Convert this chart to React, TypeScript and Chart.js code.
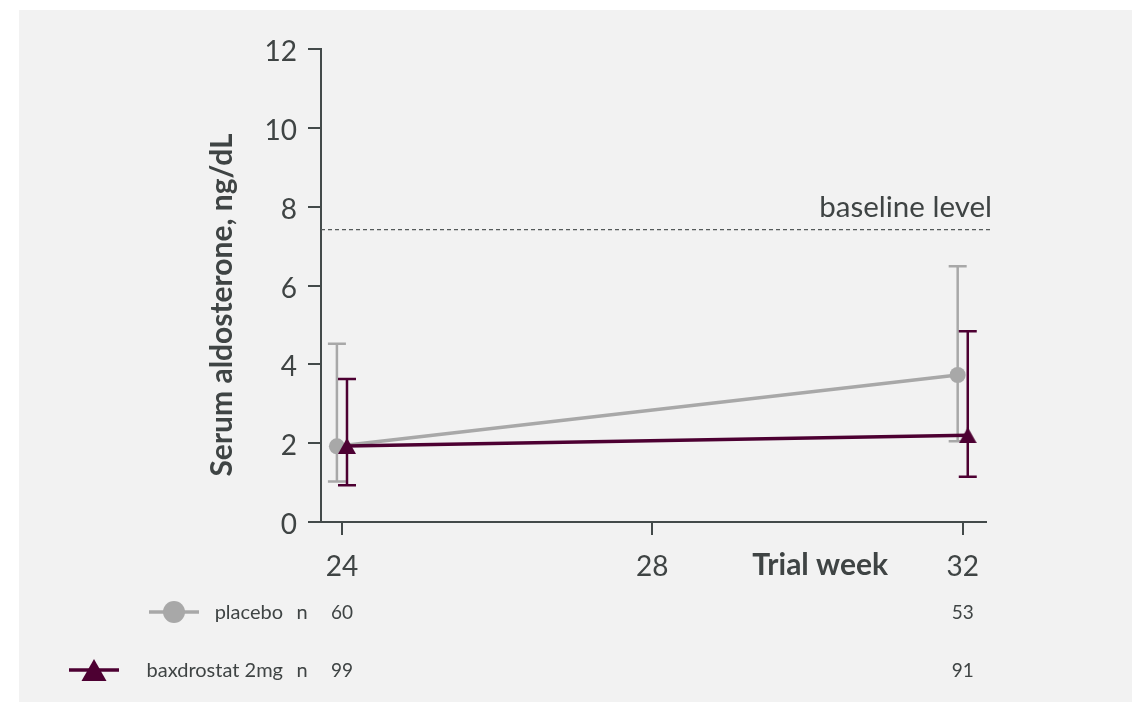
import React, { useEffect, useRef } from 'react';
import { Chart, registerables } from 'chart.js';

Chart.register(...registerables);

// ---------- data ----------
const WEEKS = [24, 32];
const X_TICKS = [24, 28, 32];
const PLACEBO_MEAN = [1.92, 3.73];
const PLACEBO_UPPER = [4.52, 6.49];
const PLACEBO_LOWER = [1.03, 2.05];
const BAX_MEAN = [1.93, 2.2];
const BAX_UPPER = [3.63, 4.84];
const BAX_LOWER = [0.93, 1.15];
const PLACEBO_N = [60, 53];
const BAX_N = [99, 91];
const BASELINE_LEVEL = 7.42;
const SERIES_NAMES = ['placebo', 'baxdrostat 2mg'];
const Y_TITLE = 'Serum aldosterone, ng/dL';
const X_TITLE = 'Trial week';
const BASELINE_LABEL = 'baseline level';

// ---------- styles ----------
const FONT = 'Lato, "Open Sans", sans-serif';
const TEXT = '#3f4444';
const AXIS = '#434a4a';
const GRAY = '#a8a8a8';
const PURPLE = '#4d0032';
const DODGE = 0.065; // weeks

function makeTriangle(w: number, h: number, color: string) {
  const c = document.createElement('canvas');
  c.width = w;
  c.height = h;
  const g = c.getContext('2d')!;
  g.fillStyle = color;
  g.beginPath();
  g.moveTo(w / 2, 0);
  g.lineTo(w, h);
  g.lineTo(0, h);
  g.closePath();
  g.fill();
  return c;
}

export default function App() {
  const ref = useRef<HTMLCanvasElement>(null);

  useEffect(() => {
    const canvas = ref.current!;
    const tri = makeTriangle(18, 16, PURPLE);
    const errors = [
      { upper: PLACEBO_UPPER, lower: PLACEBO_LOWER, color: GRAY },
      { upper: BAX_UPPER, lower: BAX_LOWER, color: PURPLE },
    ];

    const panelPlugin = {
      id: 'panel',
      beforeDraw(chart: any) {
        const ctx = chart.ctx;
        ctx.save();
        ctx.fillStyle = '#f2f2f2';
        ctx.fillRect(19, 10, chart.width - 19, chart.height - 10);
        ctx.restore();
      },
    };

    const errorPlugin = {
      id: 'errs',
      beforeDatasetDraw(chart: any, args: any) {
        const e = errors[args.index];
        const ds = chart.data.datasets[args.index];
        const xs = chart.scales.x;
        const ys = chart.scales.y;
        const ctx = chart.ctx;
        ctx.save();
        ctx.strokeStyle = e.color;
        ctx.lineWidth = 2.5;
        ds.data.forEach((p: any, i: number) => {
          const px = xs.getPixelForValue(p.x);
          const yu = ys.getPixelForValue(e.upper[i]);
          const yl = ys.getPixelForValue(e.lower[i]);
          ctx.beginPath();
          ctx.moveTo(px, yu);
          ctx.lineTo(px, yl);
          ctx.moveTo(px - 9, yu);
          ctx.lineTo(px + 9, yu);
          ctx.moveTo(px - 9, yl);
          ctx.lineTo(px + 9, yl);
          ctx.stroke();
        });
        ctx.restore();
      },
    };

    const decoPlugin = {
      id: 'deco',
      beforeDatasetsDraw(chart: any) {
        const { ctx, chartArea } = chart;
        const ys = chart.scales.y;
        const yb = ys.getPixelForValue(BASELINE_LEVEL);
        ctx.save();
        ctx.strokeStyle = '#555a5a';
        ctx.lineWidth = 1.2;
        ctx.setLineDash([4, 3]);
        ctx.beginPath();
        ctx.moveTo(chartArea.left, yb);
        ctx.lineTo(chartArea.right + 4, yb);
        ctx.stroke();
        ctx.setLineDash([]);
        ctx.fillStyle = TEXT;
        ctx.font = `29.5px ${FONT}`;
        ctx.textAlign = 'right';
        ctx.textBaseline = 'alphabetic';
        ctx.fillText(BASELINE_LABEL, chartArea.right + 6, yb - 13);
        ctx.restore();
      },
      afterDraw(chart: any) {
        const { ctx, chartArea } = chart;
        const xs = chart.scales.x;
        ctx.save();
        ctx.fillStyle = TEXT;
        // y title
        ctx.save();
        ctx.translate(222, 305);
        ctx.rotate(-Math.PI / 2);
        ctx.font = `bold 30px ${FONT}`;
        ctx.textAlign = 'center';
        ctx.textBaseline = 'middle';
        ctx.fillText(Y_TITLE, 0, 0);
        ctx.restore();
        // x title
        ctx.font = `bold 30px ${FONT}`;
        ctx.textAlign = 'right';
        ctx.textBaseline = 'alphabetic';
        ctx.fillText(X_TITLE, 888, chartArea.bottom + 53);

        // legend rows
        const rows = [
          { y: 612, name: SERIES_NAMES[0], n: PLACEBO_N, color: GRAY, kind: 'circle', cx: 174 },
          { y: 670, name: SERIES_NAMES[1], n: BAX_N, color: PURPLE, kind: 'tri', cx: 94 },
        ];
        rows.forEach((r) => {
          ctx.strokeStyle = r.color;
          ctx.fillStyle = r.color;
          ctx.lineWidth = 3.5;
          ctx.beginPath();
          ctx.moveTo(r.cx - 25, r.y);
          ctx.lineTo(r.cx + 25, r.y);
          ctx.stroke();
          ctx.beginPath();
          if (r.kind === 'circle') {
            ctx.arc(r.cx, r.y, 11, 0, Math.PI * 2);
          } else {
            ctx.moveTo(r.cx, r.y - 11);
            ctx.lineTo(r.cx + 12.5, r.y + 11);
            ctx.lineTo(r.cx - 12.5, r.y + 11);
            ctx.closePath();
          }
          ctx.fill();
          ctx.fillStyle = TEXT;
          ctx.font = `20px ${FONT}`;
          ctx.textBaseline = 'alphabetic';
          ctx.textAlign = 'right';
          ctx.fillText(r.name, 283, r.y + 7);
          ctx.textAlign = 'center';
          ctx.fillText('n', 302, r.y + 7);
          ctx.font = `19px ${FONT}`;
          WEEKS.forEach((w, i) => {
            ctx.fillText(String(r.n[i]), xs.getPixelForValue(w), r.y + 7);
          });
        });
        ctx.restore();
      },
    };

    const chart = new Chart(canvas, {
      type: 'line',
      data: {
        datasets: [
          {
            label: SERIES_NAMES[0],
            data: WEEKS.map((w, i) => ({ x: w - DODGE, y: PLACEBO_MEAN[i] })),
            borderColor: GRAY,
            backgroundColor: GRAY,
            borderWidth: 3.5,
            pointRadius: 8,
            pointBorderWidth: 0,
            pointBackgroundColor: GRAY,
            order: 2,
          },
          {
            label: SERIES_NAMES[1],
            data: WEEKS.map((w, i) => ({ x: w + DODGE, y: BAX_MEAN[i] })),
            borderColor: PURPLE,
            backgroundColor: PURPLE,
            borderWidth: 3.5,
            pointStyle: tri as any,
            pointRadius: 9,
            order: 1,
          },
        ],
      },
      options: {
        responsive: false,
        animation: false,
        events: [],
        layout: { padding: { left: 221, top: 49, right: 146, bottom: 120 } },
        plugins: { legend: { display: false }, tooltip: { enabled: false } },
        scales: {
          x: {
            type: 'linear',
            min: 23.73,
            max: 32.3,
            afterBuildTicks: (s: any) => {
              s.ticks = X_TICKS.map((v) => ({ value: v }));
            },
            afterFit: (s: any) => {
              s.height = 60;
            },
            ticks: {
              font: { family: FONT, size: 28 },
              color: TEXT,
              padding: 15,
              maxRotation: 0,
              callback: (v: any) => String(v),
            },
            grid: { drawOnChartArea: false, tickLength: 13, color: AXIS, lineWidth: 2 },
            border: { display: true, color: AXIS, width: 2 },
          },
          y: {
            min: 0,
            max: 12,
            afterFit: (s: any) => {
              s.width = 100;
            },
            ticks: {
              stepSize: 2,
              font: { family: FONT, size: 28 },
              color: TEXT,
              padding: 11,
              labelOffset: 3,
            },
            grid: { drawOnChartArea: false, tickLength: 13, color: AXIS, lineWidth: 2 },
            border: { display: true, color: AXIS, width: 2 },
          },
        },
      },
      plugins: [panelPlugin, errorPlugin, decoPlugin],
    });
    return () => chart.destroy();
  }, []);

  return (
    <div style={{ position: 'absolute', left: 0, top: 0, width: 1132, height: 702, background: '#fff' }}>
      <canvas ref={ref} width={1132} height={702} style={{ display: 'block', width: 1132, height: 702 }} />
    </div>
  );
}
